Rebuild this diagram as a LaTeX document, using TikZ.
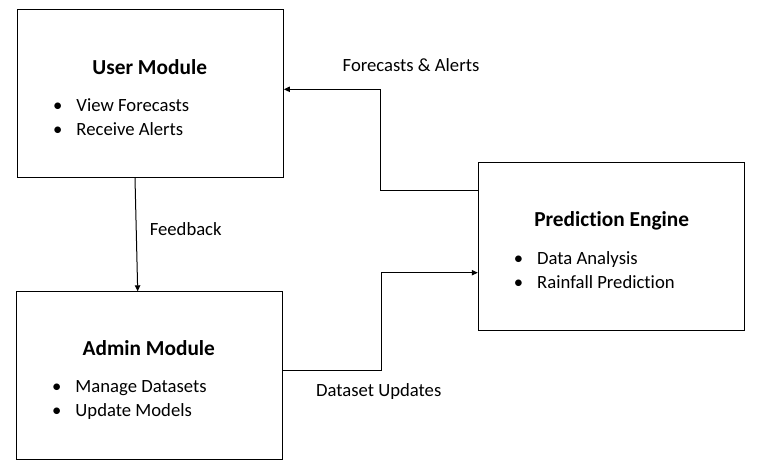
\documentclass[tikz,border=0pt]{standalone}
\usepackage{fontspec}
\setmainfont[Ligatures=NoCommon]{Carlito}
\usetikzlibrary{arrows.meta}

\tikzset{every picture/.style={line width=0.75pt}}
\tikzset{
  modbox/.style={draw, minimum width=199.5pt, minimum height=126pt, inner sep=0pt},
  modtitle/.style={anchor=base, inner sep=0pt, font=\fontsize{16}{19}\selectfont\bfseries},
  moditem/.style={anchor=base west, inner sep=0pt, font=\fontsize{14}{17}\selectfont},
  flowlabel/.style={anchor=base, inner sep=0pt, font=\fontsize{14}{17}\selectfont},
  flow/.style={-{Triangle[length=4.5pt,width=4pt]}}
}
\newcommand{\blt}[1]{\llap{\textbullet\hspace{10.5pt}}#1}

\begin{document}
\begin{tikzpicture}[x=0.75pt,y=0.75pt,yscale=-1,xscale=1]
		\useasboundingbox (0,0) rectangle (767,471);

		%Shape: Rectangle [id:user]
		\node [modbox] (user) at (150.3,93.7) {};
		%Shape: Rectangle [id:admin]
		\node [modbox] (admin) at (149.8,375.8) {};
		%Shape: Rectangle [id:pred]
		\node [modbox] (pred) at (611.3,246.3) {};

		% Text Node
		\node [modtitle] (usertitle) at (149.7,74.2) {User Module};
		\node [moditem] (userview) at (76,111) {\blt{View Forecasts}};
		\node [moditem] (useralert) at (76,135) {\blt{Receive Alerts}};
		% Text Node
		\node [modtitle] (admintitle) at (148.8,355.5) {Admin Module};
		\node [moditem] (adminmanage) at (75,392.3) {\blt{Manage Datasets}};
		\node [moditem] (adminupdate) at (75,416.7) {\blt{Update Models}};
		% Text Node
		\node [modtitle] (predtitle) at (611.7,226.5) {Prediction Engine};
		\node [moditem] (preddata) at (536.7,264) {\blt{Data Analysis}};
		\node [moditem] (predrain) at (536.7,288.3) {\blt{Rainfall Prediction}};

		%Straight Lines [id:forecasts]
		\draw [flow] (pred.west |- 0,190) -| (380.7,89.3) -- (user.east |- 0,89.3) ;
		%Straight Lines [id:feedback]
		\draw [flow] (user.south -| 135,0) -- (admin.north -| 137.7,0) ;
		%Straight Lines [id:dataset]
		\draw [flow] (admin.east |- 0,370) -| (381.7,272.7) -- (pred.west |- 0,272.7) ;

		% Text Node
		\node [flowlabel] (forecastslabel) at (411,71.7) {Forecasts \& Alerts};
		% Text Node
		\node [flowlabel, anchor=base west] (feedbacklabel) at (149.3,235.7) {Feedback};
		% Text Node
		\node [flowlabel] (datasetlabel) at (378.7,396.7) {Dataset Updates};

\end{tikzpicture}
\end{document}
